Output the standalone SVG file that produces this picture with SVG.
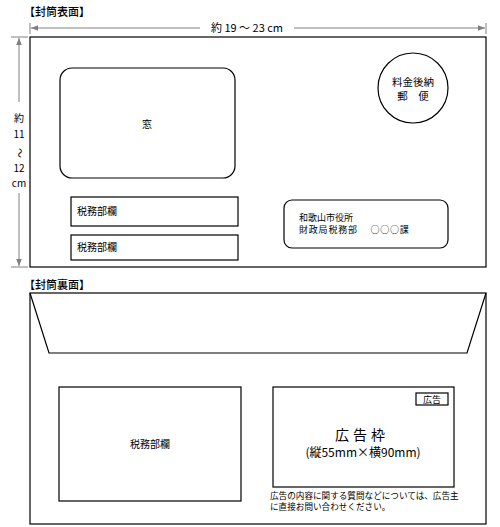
<svg xmlns="http://www.w3.org/2000/svg" width="500" height="527" viewBox="0 0 500 527">
<style>
text{font-family:"Noto Sans CJK JP","Liberation Sans",sans-serif;fill:#000}
.box{fill:none;stroke:#000;stroke-width:1.2}
.dim{stroke:#808080;stroke-width:1;fill:none}
.t10{font-size:10px}
.d{font-size:10px;text-anchor:middle}
</style>
<defs>
<marker id="ah" viewBox="0 0 10 10" refX="10" refY="5" markerWidth="7" markerHeight="7" orient="auto-start-reverse" markerUnits="userSpaceOnUse">
<path d="M0,1 L10,5 L0,9 Z" fill="#808080"/>
</marker>
</defs>
<rect width="500" height="527" fill="#fff"/>

<!-- Front -->
<text x="24" y="16" font-size="11" font-weight="500">【封筒表面】</text>
<g id="dims">
<line class="dim" x1="30" y1="23" x2="30" y2="34"/>
<line class="dim" x1="486" y1="23" x2="486" y2="34"/>
<line class="dim" x1="31" y1="28" x2="200" y2="28" marker-start="url(#ah)"/>
<line class="dim" x1="294" y1="28" x2="485" y2="28" marker-end="url(#ah)"/>
<text x="247" y="32" font-size="11" text-anchor="middle">約 19 ～ 23 cm</text>
<line class="dim" x1="11" y1="37" x2="28" y2="37"/>
<line class="dim" x1="11" y1="267" x2="28" y2="267"/>
<line class="dim" x1="19" y1="38" x2="19" y2="102" marker-start="url(#ah)"/>
<line class="dim" x1="19" y1="193" x2="19" y2="266" marker-end="url(#ah)"/>
<text x="19" y="122" class="d">約</text>
<text x="19" y="138" class="d">11</text>
<text x="19" y="156" class="d" transform="rotate(90 19 153)">～</text>
<text x="19" y="172" class="d">12</text>
<text x="19" y="187" class="d" font-size="9">cm</text>
</g>
<g id="front"><rect class="box" x="30" y="37" width="456" height="230"/></g>
<g id="window"><rect class="box" x="60" y="68" width="175" height="110" rx="12"/><text x="147" y="128" class="t10" text-anchor="middle">窓</text></g>
<g id="postage"><circle class="box" cx="413" cy="88" r="35"/><text x="413" y="86" font-size="10.5" text-anchor="middle">料金後納</text><text x="413" y="100" font-size="10.5" text-anchor="middle">郵　便</text></g>
<g id="tax1"><rect class="box" x="71" y="197" width="167" height="29"/><text x="77" y="215" class="t10">税務部欄</text></g>
<g id="tax2"><rect class="box" x="71" y="235" width="167" height="25"/><text x="77" y="251" class="t10">税務部欄</text></g>
<g id="address"><rect class="box" x="284" y="200" width="164" height="48" rx="8"/><text x="299" y="221" font-size="9">和歌山市役所</text><text x="299" y="233" font-size="9" letter-spacing="0.8">財政局税務部　 ○○○課</text></g>

<!-- Back -->
<text x="24" y="289" font-size="11" font-weight="500">【封筒裏面】</text>
<g id="back"><rect class="box" x="30" y="293" width="456" height="231"/><polyline class="box" points="30,293 49,353 467,353 486,293"/></g>
<g id="tax3"><rect class="box" x="59" y="387" width="182" height="114"/><text x="150" y="448" class="t10" text-anchor="middle">税務部欄</text></g>
<g id="ad"><rect class="box" x="273" y="387" width="181" height="100"/>
<rect class="box" x="416" y="393" width="32" height="12"/><text x="432" y="403" font-size="9" text-anchor="middle">広告</text>
<text x="362" y="440" font-size="14" text-anchor="middle" letter-spacing="4">広告枠</text>
<text x="363" y="457" font-size="12" text-anchor="middle">(縦55mm×横90mm)</text>
</g>
<g id="note"><text x="270" y="499" font-size="8.6">広告の内容に関する質問などについては、広告主</text><text x="270" y="510" font-size="8.6">に直接お問い合わせください。</text></g>
</svg>
